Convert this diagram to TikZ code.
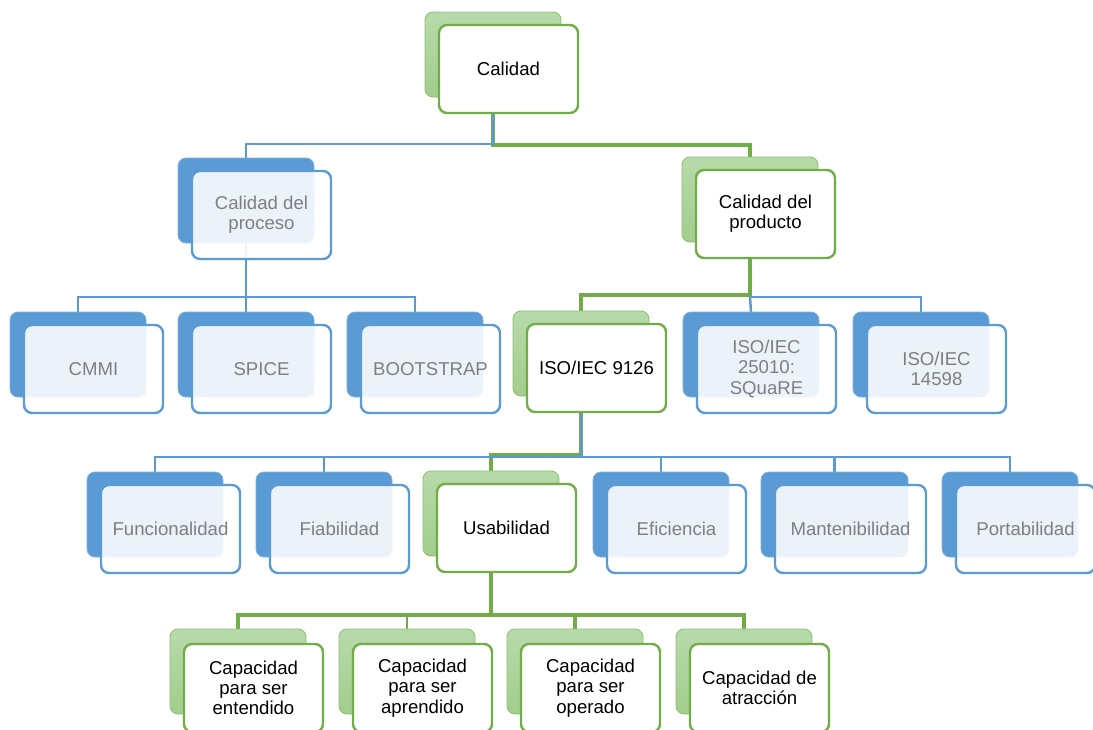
\documentclass[tikz,border=0pt]{standalone}
\usepackage{fontspec}
\setmainfont{Liberation Sans}
\definecolor{blueFill}{HTML}{5B9BD5}
\definecolor{blueEdge}{HTML}{7DB0DE}
\definecolor{blueLine}{HTML}{5B9BD5}
\definecolor{greenLine}{HTML}{70AD47}
\definecolor{greenTop}{HTML}{B8DAAA}
\definecolor{greenBot}{HTML}{A2CD8D}
\definecolor{greenEdge}{HTML}{8EC172}
\definecolor{greyText}{HTML}{7F7F7F}
\pgfdeclarelayer{bg}
\pgfsetlayers{bg,main}
\tikzset{
  box/.style={rounded corners=8pt, inner sep=0pt, outer sep=0pt, anchor=north west},
  backsize/.style={minimum width=136pt, minimum height=85pt},
  frontsize/.style={minimum width=139pt, minimum height=88pt},
  bback/.style={box, backsize, fill=blueFill, draw=blueEdge, line width=0.8pt},
  gback/.style={box, backsize, top color=greenTop, bottom color=greenBot, draw=greenEdge, line width=0.9pt},
  label/.style={font=\fontsize{18.6}{20.2}\selectfont, align=center},
  bfront/.style={box, frontsize, label, fill=white, fill opacity=0.88, text opacity=1,
                 draw=blueLine, draw opacity=1, line width=2.4pt, text=greyText},
  gfront/.style={box, frontsize, label, fill=white, draw=greenLine, line width=2.4pt, text=black},
  gthick/.style={draw=greenLine, line width=4.5pt},
  gthin/.style={draw=greenLine, line width=1.2pt},
  bbus/.style={draw=blueLine, line width=2.5pt},
  bthin/.style={draw=blueLine, line width=1.3pt},
}
% a hierarchy box: back plate plus front card shifted down-right
\newcommand\bluebox[4]{%
  \node[bback] (#1B) at (#2,#3) {};
  \node[bfront] (#1) at ([shift={(14,13)}]#1B.north west) {#4};}
\newcommand\greenbox[5][13]{%
  \node[gback] (#2B) at (#3,#4) {};
  \node[gfront] (#2) at ([shift={(14,#1)}]#2B.north west) {#5};}
\begin{document}
\begin{tikzpicture}[x=1pt,y=-1pt]
\useasboundingbox (0,0) rectangle (1093,729);
\clip (0,0) rectangle (1093,729);

% bus levels
\coordinate (busA) at (0,144);
\coordinate (busAg) at (0,145);
\coordinate (busB) at (0,297);
\coordinate (busBg) at (0,295);
\coordinate (busC) at (0,457);
\coordinate (busCg) at (0,455);
\coordinate (busD) at (0,615);

\greenbox{cal}{425}{12}{Calidad}
\bluebox{proc}{178}{158}{Calidad del\\proceso}
\greenbox{prod}{682}{157}{Calidad del\\producto}

\bluebox{cmmi}{10}{312}{CMMI}
\bluebox{spice}{178}{312}{SPICE}
\bluebox{boot}{347}{312}{BOOTSTRAP}
\greenbox{isoa}{513}{311}{ISO/IEC 9126}
\bluebox{isob}{683}{312}{ISO/IEC\\25010:\\SQuaRE}
\bluebox{isoc}{853}{312}{ISO/IEC\\14598}

\bluebox{func}{87}{472}{Funcionalidad}
\bluebox{fiab}{256}{472}{Fiabilidad}
\greenbox{usab}{423}{471}{Usabilidad}
\bluebox{efic}{593}{472}{Eficiencia}
\node[bback, minimum width=147pt] (mantB) at (761,472) {};
\node[bfront, minimum width=151pt] (mant) at ([shift={(14,13)}]mantB.north west) {Mantenibilidad};
\bluebox{port}{942}{472}{Portabilidad}

\greenbox[15]{capa}{170}{629}{Capacidad\\para ser\\entendido}
\greenbox[15]{capb}{339}{629}{Capacidad\\para ser\\aprendido}
\greenbox[15]{capc}{507}{629}{Capacidad\\para ser\\operado}
\greenbox[15]{capd}{676}{629}{Capacidad de\\atracción}

\begin{pgfonlayer}{bg}
  % level 1
  \draw[gthick] (calB.south) |- (prodB.north |- busAg) -- (prodB.north);
  \draw[bthin] (calB.south) |- (procB.north |- busA) -- (procB.north);
  % level 2
  \draw[bbus] (procB.south) |- (cmmiB.north |- busB) -- (cmmiB.north);
  \draw[bbus] (procB.south) -- (spiceB.north);
  \draw[bbus] (procB.south |- busB) -| (bootB.north);
  \draw[gthick] (prodB.south) |- (isoaB.north |- busBg) -- (isoaB.north);
  \draw[bbus] (prodB.south |- busB) -- (isobB.north);
  \draw[bbus] (prodB.south |- busB) -| (isocB.north);
  % level 3
  \draw[gthick] (isoaB.south) |- (usabB.north |- busCg) -- (usabB.north);
  \draw[bbus] (isoaB.south) |- (funcB.north |- busC) -- (funcB.north);
  \draw[bbus] (isoaB.south |- busC) -| (fiabB.north);
  \draw[bbus] (isoaB.south |- busC) -| (eficB.north);
  \draw[bbus] (isoaB.south |- busC) -| (mantB.north);
  \draw[bbus] (isoaB.south |- busC) -| (portB.north);
  % level 4
  \draw[gthick] (usabB.south) |- (capaB.north |- busD) -- (capaB.north);
  \draw[gthick] (usabB.south |- busD) -| (capdB.north);
  \draw[gthick] (usabB.south |- busD) -| (capcB.north);
  \draw[gthin] (capbB.north |- busD) -- (capbB.north);
\end{pgfonlayer}
\end{tikzpicture}
\end{document}
